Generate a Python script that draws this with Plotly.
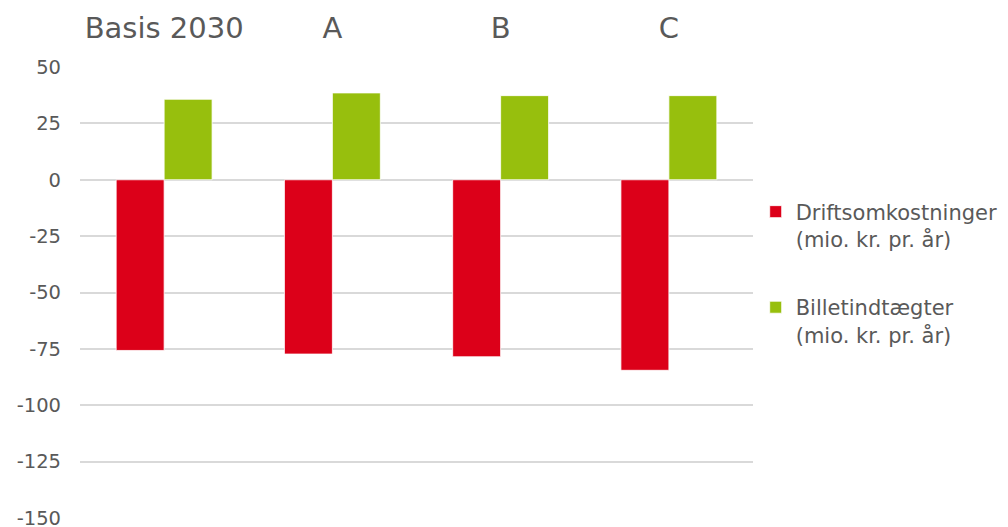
import plotly.graph_objects as go

categories = ["Basis 2030", "A", "B", "C"]
drift = [-75.7, -77.3, -78.5, -84.5]
billet = [35.7, 38.5, 37.3, 37.3]
series_names = ["Driftsomkostninger<br>(mio. kr. pr. år)", "Billetindtægter<br>(mio. kr. pr. år)"]
y_ticks = [50, 25, 0, -25, -50, -75, -100, -125, -150]

FONT = "DejaVu Sans"
TXT = "#595959"

fig = go.Figure()
fig.add_trace(go.Bar(x=categories, y=drift, name=series_names[0], legendgroup="g1",
                     marker=dict(color="#DC0019", line=dict(color="#FFFFFF", width=0.8))))
fig.add_trace(go.Bar(x=categories, y=billet, name=series_names[1], legendgroup="g2",
                     marker=dict(color="#97BF0D", line=dict(color="#FFFFFF", width=0.8))))

fig.update_layout(
    width=1008, height=527,
    margin=dict(l=72, r=263, t=59, b=17),
    paper_bgcolor="white", plot_bgcolor="white",
    barmode="group", bargap=0.43, bargroupgap=0,
    font=dict(family=FONT, color=TXT),
    showlegend=True,
    legend=dict(x=1.004, y=0.724, xanchor="left", yanchor="top",
                font=dict(family=FONT, size=21, color=TXT),
                tracegroupgap=38, valign="top", traceorder="grouped",
                itemclick=False, itemdoubleclick=False),
)
fig.update_xaxes(side="top", showgrid=False, showline=False, zeroline=False,
                 tickfont=dict(family=FONT, size=29, color=TXT),
                 ticks="", ticklabelstandoff=22, automargin=False)
fig.update_yaxes(range=[-150, 50], tickvals=y_ticks, ticktext=[str(v) for v in y_ticks],
                 showgrid=True, gridcolor="#D9D9D9", gridwidth=1.5,
                 zeroline=True, zerolinecolor="#D9D9D9", zerolinewidth=1.5,
                 showline=False, ticks="", ticklabelstandoff=18, automargin=False,
                 tickfont=dict(family=FONT, size=19.5, color=TXT))

fig.write_html("out.html")
